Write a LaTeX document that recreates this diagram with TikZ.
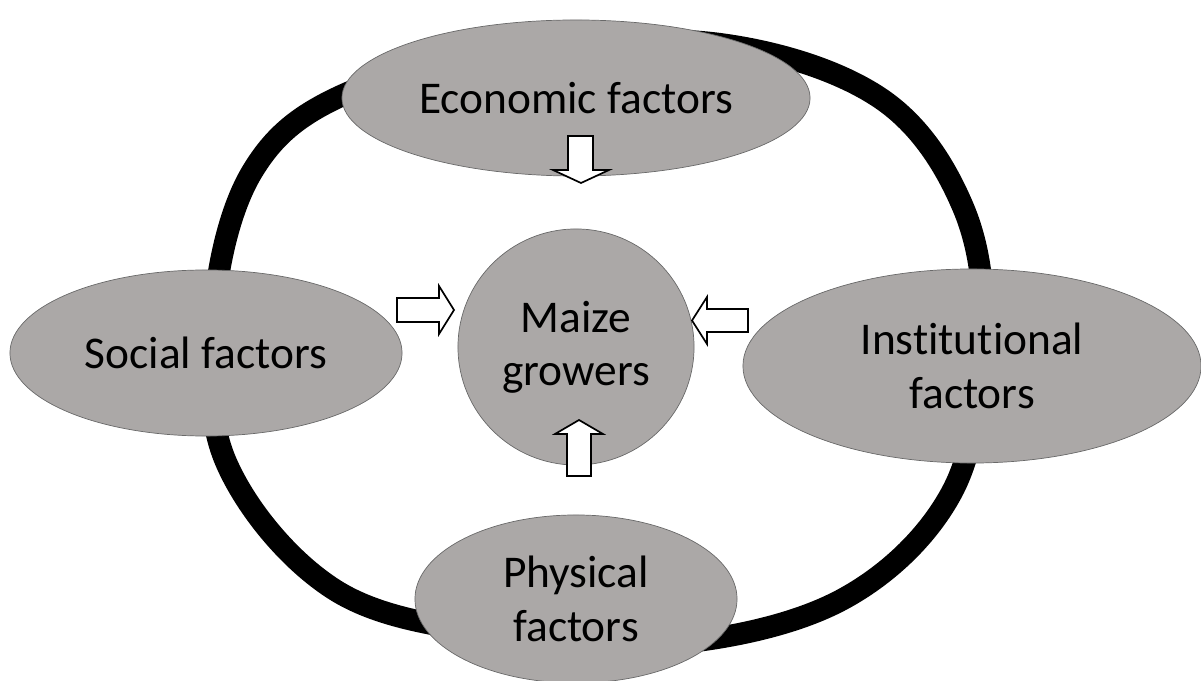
\documentclass[tikz,border=0pt]{standalone}
\usepackage{fontspec}
\setmainfont{Carlito}[Ligatures={NoCommon}]
\usetikzlibrary{shapes.geometric}
\definecolor{factorgray}{RGB}{171,168,167}
\definecolor{rimgray}{RGB}{105,105,105}
\tikzset{
	factor/.style={ellipse, draw=rimgray, line width=0.5pt, fill=factorgray, inner sep=0pt, align=center, font=\fontsize{32.3}{38}\selectfont}, % the grey ovals
	hollow/.style={draw=black, line width=1.2pt, fill=white, line join=miter}, % white block arrows
	ring/.style={line width=0.55cm, black}
}

\begin{document}
\begin{tikzpicture}[x=0.025cm, y=-0.025cm]
		\useasboundingbox (0,0) rectangle (1201,681);
		% Thick loop behind the factors
		\draw [ring] plot [smooth cycle, tension=0.6] coordinates {
			(343,95) (520,50) (720,44) (880,98) (963,207) (983,340) (952,492)
			(845,598) (680,643) (500,635) (335,590) (226,462) (214,310) (252,172)};
		% Factors
		\node [factor, minimum width=11.7cm, minimum height=3.9cm] (econ) at (576,98) {Economic factors};
		\node [factor, minimum width=9.8cm, minimum height=4.15cm] (social) at (206,353) {Social factors};
		\node [factor, minimum width=11.45cm, minimum height=4.85cm] (inst) at (972,366) {Institutional\\factors};
		\node [factor, minimum width=8.05cm, minimum height=4.2cm] (phys) at (576,599) {Physical\\factors};
		% Centre
		\node [factor, circle, minimum size=5.9cm] (maize) at (576,347) {Maize\\growers};
		% Block arrows
		\draw [hollow] (568,136) -- (593,136) -- (593,170) -- (609,170) -- (581,183) -- (553,170) -- (568,170) -- cycle;
		\draw [hollow] (397,298) -- (439,298) -- (439,286) -- (454,310) -- (439,334) -- (439,322) -- (397,322) -- cycle;
		\draw [hollow] (748,309) -- (707,309) -- (707,297) -- (692,320.5) -- (707,344) -- (707,332) -- (748,332) -- cycle;
		\draw [hollow] (567,476) -- (591,476) -- (591,434) -- (603,434) -- (579,420) -- (555,434) -- (567,434) -- cycle;
\end{tikzpicture}
\end{document}
